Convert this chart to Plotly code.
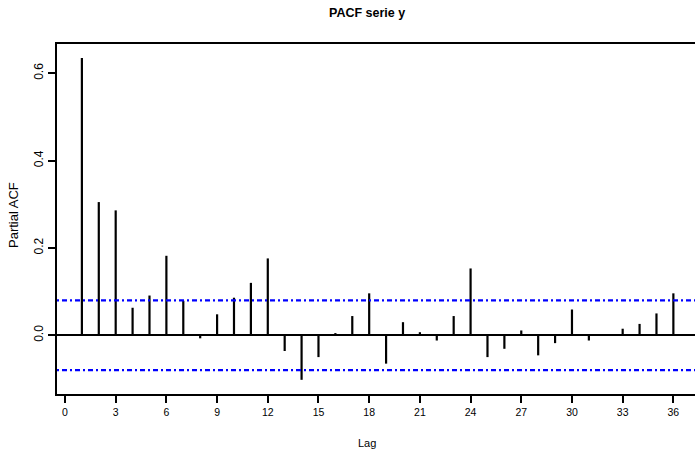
import plotly.graph_objects as go

lags = list(range(1, 37))
pacf = [0.635, 0.305, 0.286, 0.063, 0.091, 0.182, 0.079, -0.007, 0.048, 0.086,
        0.120, 0.176, -0.036, -0.102, -0.050, 0.005, 0.044, 0.096, -0.065, 0.030,
        0.007, -0.012, 0.044, 0.153, -0.050, -0.031, 0.011, -0.046, -0.018, 0.059,
        -0.012, 0.001, 0.015, 0.026, 0.050, 0.096]
clim = 0.080
xticks = [0, 3, 6, 9, 12, 15, 18, 21, 24, 27, 30, 33, 36]
yticks = [0.0, 0.2, 0.4, 0.6]

FONT = "Liberation Sans, Arial, sans-serif"

xs, ys = [], []
for l, v in zip(lags, pacf):
    xs += [l, l, None]
    ys += [0, v, None]

fig = go.Figure()
fig.add_trace(go.Scatter(x=xs, y=ys, mode="lines",
                         line=dict(color="black", width=2.2),
                         hoverinfo="skip", showlegend=False))

xr = [-0.473, 37.28]
for c in (clim, -clim):
    fig.add_trace(go.Scatter(x=xr, y=[c, c], mode="lines",
                             line=dict(color="#0000ff", width=2.3, dash="2px,3px,5px,3px"),
                             hoverinfo="skip", showlegend=False))

fig.update_layout(
    width=695, height=454,
    margin=dict(l=57, r=0, t=44, b=60),
    plot_bgcolor="white", paper_bgcolor="white",
    font=dict(family=FONT, size=10, color="black"),
    xaxis=dict(range=xr, tickvals=xticks, ticktext=[str(t) for t in xticks],
               showgrid=False, zeroline=False, showline=True, linecolor="black",
               linewidth=2, mirror=True, ticks="outside", ticklen=7, tickwidth=2,
               tickcolor="black", tickfont=dict(size=10.5, family=FONT)),
    yaxis=dict(range=[-0.1345, 0.667], tickvals=yticks,
               ticktext=["%.1f" % t for t in yticks], tickangle=-90,
               showgrid=False, zeroline=True, zerolinecolor="black", zerolinewidth=2,
               showline=True, linecolor="black", linewidth=2,
               ticks="outside", ticklen=7, tickwidth=2, tickcolor="black",
               tickfont=dict(size=12, family=FONT)),
    annotations=[
        dict(text="<b>PACF serie y</b>", xref="paper", yref="paper",
             x=(367 - 57) / 638, y=1 + (44 - 13) / 350, showarrow=False,
             xanchor="center", yanchor="middle", font=dict(size=12.5, family=FONT)),
        dict(text="Lag", xref="paper", yref="paper",
             x=(367 - 57) / 638, y=-(443 - 394) / 350, showarrow=False,
             xanchor="center", yanchor="middle", font=dict(size=11, family=FONT)),
        dict(text="Partial ACF", xref="paper", yref="paper", textangle=-90,
             x=-(57 - 13) / 638, y=(394 - 215) / 350, showarrow=False,
             xanchor="center", yanchor="middle", font=dict(size=13, family=FONT)),
    ],
)

fig.write_html("out.html")
